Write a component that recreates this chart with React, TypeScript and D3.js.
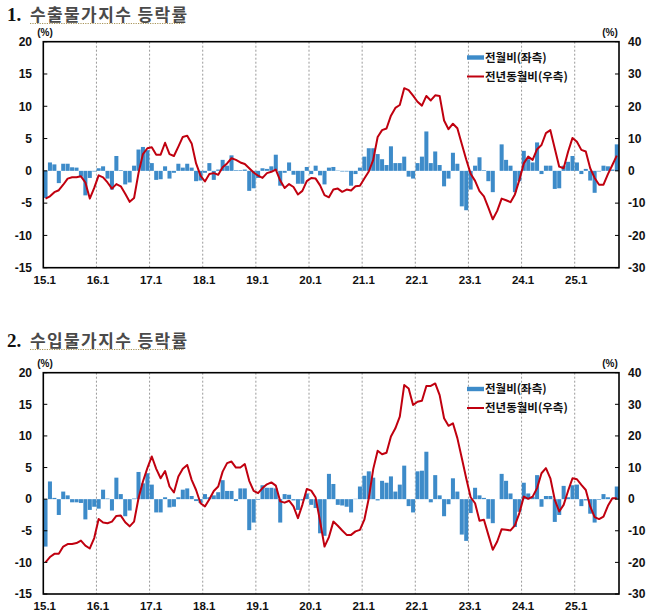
import React from "react";
import * as d3 from "d3";

// ---- categories ----
const years = ["15", "16", "17", "18", "19", "20", "21", "22", "23", "24", "25"];
const monthNums = [1, 2, 3, 4, 5, 6, 7, 8, 9, 10, 11, 12];
const xTickLabels = ["15.1", "16.1", "17.1", "18.1", "19.1", "20.1", "21.1", "22.1", "23.1", "24.1", "25.1"];
const leftTicks = [20, 15, 10, 5, 0, -5, -10, -15];
const rightTicks = [40, 30, 20, 10, 0, -10, -20, -30];
const seriesNames = ["전월비(좌측)", "전년동월비(우측)"];

// ---- 1. 수출물가지수 ----
const exportMoM = [
  -4.2, 1.3, 1.0, -1.9, 1.1, 1.1, 0.55, 0.5, -0.9, -3.8, -1.1, -0.1,
  0.4, 0.7, -1.2, -2.9, 2.3, 0.1, -2.1, -1.8, 0.8, 3.3, 3.7, 3.2,
  1.2, -1.4, -1.3, 0.7, -1.2, -0.3, 1.1, 0.5, 1.1, 0.5, -1.6, -1.5,
  -0.3, 1.2, -1.4, 0.2, 1.7, 0.8, 2.4, 0.1, 0.1, 0.2, -3.1, -2.7,
  -1.1, 0.4, 0.3, 0.7, 2.5, -2.3, -0.3, 1.3, -0.6, -2.0, -2.0, 0.6,
  -0.5, 0.8, -0.7, -2.1, 0.5, 0.6, 0.05, -0.1, -0.1, -2.3, -0.5, 0.5,
  2.2, 3.5, 3.5, 2.6, 1.8, 0.9, 3.8, 1.2, 1.2, 2.2, -0.9, -1.2,
  1.2, 2.2, 6.1, 1.2, 3.0, 0.9, -2.4, -1.2, 2.8, 1.1, -5.5, -6.1,
  -2.9, 0.8, 2.1, 0.1, -1.6, -3.3, 0.0, 4.1, 1.7, 0.8, -3.3, -1.6,
  3.1, 1.8, 1.3, 4.4, -0.5, 0.8, 0.8, -2.8, -2.7, 0.8, 1.4, 2.3,
  1.3, -0.5, 0.3, -1.5, -3.4, -0.1, 0.8, 0.7, 0.2, 4.1,
];
const exportYoY = [
  -8.6, -7.9, -6.6, -6.0, -4.3, -2.4, -2.0, -2.0, -1.7, -3.6, -8.6, -5.3,
  -1.4, -2.0, -3.6, -5.5, -4.1, -4.8, -7.1, -9.6, -8.4, -0.7, 5.2, 7.0,
  7.3, 5.0, 5.0, 8.7, 5.2, 4.6, 7.5, 10.5, 10.9, 8.5, 2.3, -1.5,
  -3.3, -1.0, -0.7, -1.2, 1.1, 2.3, 3.9, 3.4, 2.6, 2.1, 0.8, -0.5,
  -1.5, -2.2, -0.7, -0.3, 0.4, -3.0, -5.3, -4.1, -5.0, -7.3, -6.2, -3.2,
  -2.2, -2.4, -4.5, -7.5, -8.2, -5.8, -5.5, -6.5, -5.8, -6.1, -4.8, -4.6,
  -2.4, -0.2, 3.4, 10.5, 12.6, 13.1, 17.1, 19.5, 20.4, 25.6, 25.0, 23.3,
  21.4, 20.2, 23.2, 21.8, 23.4, 23.2, 15.6, 12.9, 14.6, 13.2, 8.3, 3.5,
  -0.9, -3.1, -6.3, -7.9, -11.4, -15.0, -12.4, -8.6, -9.1, -9.7, -7.3, -2.8,
  2.3, 4.4, 3.4, 6.7, 8.0, 11.7, 12.6, 6.9, 1.3, 0.8, 5.9, 10.2,
  9.0, 6.5, 6.0, 0.8, -2.2, -4.3, -4.3, -1.0, 1.8, 4.7,
];

// ---- 2. 수입물가지수 ----
const importMoM = [
  -7.5, 2.8, 0.2, -2.5, 1.2, 0.6, -0.5, -0.5, -0.6, -3.2, -1.7, -1.2,
  -1.5, 1.5, 0.1, -1.8, 3.4, 0.8, -2.7, -1.8, 0.1, 4.3, 2.5, 4.1,
  2.3, -2.1, -2.1, 0.3, -1.3, -1.2, 0.3, 1.5, 1.7, 0.5, -0.3, -0.6,
  0.8, 0.3, 0.6, 1.1, 3.0, 1.3, 1.3, -0.3, 1.7, 1.7, -4.9, -3.7,
  -0.1, 2.2, 1.8, 1.8, 1.7, -3.7, 0.8, 0.7, -0.2, -1.7, -0.2, 0.9,
  -0.9, -1.4, -5.4, -5.8, 4.0, 2.4, -0.9, -1.0, -1.2, -2.1, 0.05, 2.0,
  3.7, 4.4, 3.4, -0.2, 2.9, 2.6, 3.6, 1.2, 2.3, 5.3, -1.1, -2.1,
  4.4, 4.5, 7.5, -0.5, 3.8, 0.6, -2.7, -0.8, 3.3, 1.2, -5.6, -6.6,
  -2.2, 1.8, 0.6, 0.2, -3.1, -3.8, 0.0, 4.0, 2.9, 0.9, -4.4, -2.0,
  2.6, 0.9, 0.4, 3.8, -1.2, 0.5, 0.5, -3.6, -2.5, 2.1, 0.3, 2.2,
  2.3, -1.1, -0.2, -2.3, -3.7, -0.1, 0.8, 0.3, 0.05, 2.0,
];
const importYoY = [
  -20.0, -18.3, -17.3, -17.3, -15.0, -14.2, -14.2, -13.9, -13.1, -14.7, -15.6, -12.3,
  -6.3, -7.4, -7.6, -7.1, -5.3, -5.2, -7.3, -8.6, -7.1, 0.3, 5.6, 9.8,
  13.5, 9.6, 6.6, 8.9, 4.0, 2.1, 7.2, 9.6, 10.8, 6.1, 2.9, -1.3,
  -2.3, 0.0, 2.6, 4.0, 8.7, 11.4, 11.9, 10.0, 10.0, 11.1, 5.8, 2.6,
  1.9, 3.5, 4.7, 5.3, 4.3, -0.7, -1.1, -0.5, -2.3, -6.0, -1.8, 3.2,
  2.7, 0.5, -7.0, -15.0, -12.0, -7.1, -8.4, -9.9, -11.3, -11.3, -10.2, -9.7,
  -6.5, 0.3, 9.5, 15.3, 14.2, 14.7, 19.8, 22.4, 26.1, 36.1, 35.0, 29.8,
  30.8, 31.1, 35.8, 35.8, 36.6, 32.9, 25.6, 23.2, 24.0, 19.3, 13.0, 6.6,
  0.6, -1.3, -6.8, -6.5, -11.3, -16.0, -13.4, -9.5, -9.7, -9.9, -8.3, -4.4,
  0.8, 0.1, 0.8, 3.5, 8.2, 9.8, 6.6, -0.2, -3.9, -1.8, 2.6, 6.6,
  6.3, 4.5, 2.9, -2.3, -5.7, -6.3, -5.5, -2.1, 0.3, 0.3,
];

const months = years.flatMap((y) => monthNums.map((m) => `${y}.${m}`)).slice(0, exportMoM.length);

const BAR = "#3d8bc9";
const LINE = "#c0000f";
const FONT = "'Liberation Sans', Arial, sans-serif";
const KFONT = "'Noto Sans CJK KR', 'Noto Sans', sans-serif";

type PanelProps = {
  num: string;
  title: string;
  mom: number[];
  yoy: number[];
  top: number;
  bottom: number;
  titleY: number;
  legendY: number;
};

const LEFT = 43.3;
const RIGHT = 619;

function Panel({ num, title, mom, yoy, top, bottom, titleY, legendY }: PanelProps) {
  const x = d3.scaleBand<string>().domain(months).range([LEFT, RIGHT]).padding(0);
  const yL = d3.scaleLinear().domain([-15, 20]).range([bottom, top]);
  const yR = d3.scaleLinear().domain([-30, 40]).range([bottom, top]);
  const bw = x.bandwidth();
  const line = d3
    .line<number>()
    .x((_, i) => (x(months[i]) as number) + bw / 2)
    .y((d) => yR(d))
    .curve(d3.curveLinear);
  const tw = 140;
  return (
    <g>
      {/* title */}
      <text x={7} y={titleY} fontFamily="'Liberation Serif', 'Times New Roman', serif" fontWeight="bold" fontSize={19} fill="#111">
        {num}
      </text>
      <text x={30} y={titleY} fontFamily={KFONT} fontWeight="bold" fontSize={17} letterSpacing={1.4} fill="#4a4a4a">
        {title}
      </text>
      <line x1={30} x2={184} y1={titleY + 2.5} y2={titleY + 2.5} stroke="#a8955a" strokeWidth={1.2} strokeDasharray="1.2,1.2" />

      {/* gridlines */}
      {xTickLabels.slice(1).map((l) => (
        <line key={l} x1={x(l)} x2={x(l)} y1={top} y2={bottom} stroke="#9a9a9a" strokeWidth={1} strokeDasharray="2,2" />
      ))}

      {/* bars */}
      {mom.map((v, i) => (
        <rect
          key={i}
          x={(x(months[i]) as number) + 0.2}
          width={bw - 0.4}
          y={Math.min(yL(v), yL(0))}
          height={Math.abs(yL(v) - yL(0))}
          fill={BAR}
        />
      ))}

      {/* line */}
      <path d={line(yoy) || ""} fill="none" stroke={LINE} strokeWidth={2} strokeLinejoin="round" />

      {/* frame */}
      <rect x={LEFT} y={top} width={RIGHT - LEFT} height={bottom - top} fill="none" stroke="#000" strokeWidth={1.6} />

      {/* left axis */}
      {leftTicks.map((t) => (
        <g key={"l" + t}>
          <line x1={LEFT} x2={LEFT + 4} y1={yL(t)} y2={yL(t)} stroke="#000" strokeWidth={1} />
          <text x={32} y={yL(t)} dy="0.36em" textAnchor="end" fontFamily={FONT} fontWeight="bold" fontSize={12} fill="#111">
            {t < 0 ? "-" + Math.abs(t) : t}
          </text>
        </g>
      ))}
      <text x={45} y={top - 6} textAnchor="middle" fontFamily={FONT} fontWeight="bold" fontSize={10} fill="#111">
        (%)
      </text>

      {/* right axis */}
      {rightTicks.map((t) => (
        <g key={"r" + t}>
          <line x1={RIGHT - 4} x2={RIGHT} y1={yR(t)} y2={yR(t)} stroke="#000" strokeWidth={1} />
          <text x={628} y={yR(t)} dy="0.36em" textAnchor="start" fontFamily={FONT} fontWeight="bold" fontSize={12} fill="#111">
            {t < 0 ? "-" + Math.abs(t) : t}
          </text>
        </g>
      ))}
      <text x={610} y={top - 6} textAnchor="middle" fontFamily={FONT} fontWeight="bold" fontSize={10} fill="#111">
        (%)
      </text>

      {/* x axis labels */}
      {xTickLabels.map((l) => (
        <text key={l} x={(x(l) as number) + 1.5} y={bottom + 16} textAnchor="middle" fontFamily={FONT} fontWeight="bold" fontSize={11.5} fill="#111">
          {l}
        </text>
      ))}

      {/* legend */}
      <rect x={467} y={legendY - 2.2} width={17} height={4.4} fill={BAR} />
      <text x={485} y={legendY} dy="0.36em" fontFamily={KFONT} fontWeight="bold" fontSize={11.5} fill="#111">
        {seriesNames[0]}
      </text>
      <line x1={467} x2={484} y1={legendY + 19} y2={legendY + 19} stroke={LINE} strokeWidth={2} />
      <text x={485} y={legendY + 19} dy="0.36em" fontFamily={KFONT} fontWeight="bold" fontSize={11.5} fill="#111">
        {seriesNames[1]}
      </text>
    </g>
  );
}

export default function App() {
  return (
    <svg
      width={658}
      height={616}
      viewBox="0 0 658 616"
      style={{ position: "absolute", left: 0, top: 0, background: "#fff" }}
    >
      <rect x={0} y={0} width={658} height={616} fill="#fff" />
      <Panel num="1." title="수출물가지수 등락률" mom={exportMoM} yoy={exportYoY} top={41.7} bottom={267.7} titleY={21} legendY={57.5} />
      <Panel num="2." title="수입물가지수 등락률" mom={importMoM} yoy={importYoY} top={372.7} bottom={594} titleY={347} legendY={389} />
    </svg>
  );
}
